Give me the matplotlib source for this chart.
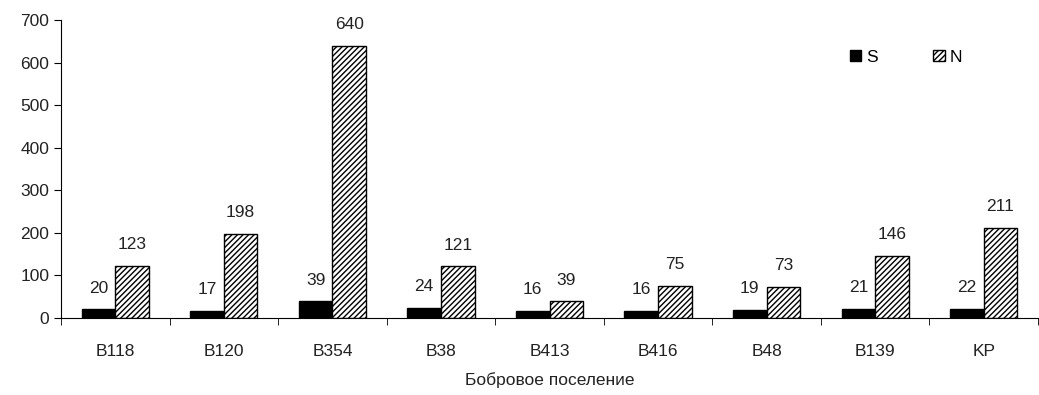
import matplotlib.pyplot as plt
import numpy as np

plt.rcParams['font.family'] = ['Liberation Sans', 'DejaVu Sans']
plt.rcParams['hatch.linewidth'] = 1.0

# data
categories = ['B118', 'B120', 'B354', 'B38', 'B413', 'B416', 'B48', 'B139', 'KP']
s_values = [20, 17, 39, 24, 16, 16, 19, 21, 22]
n_values = [123, 198, 640, 121, 39, 75, 73, 146, 211]
y_ticks = [0, 100, 200, 300, 400, 500, 600, 700]

txt = '#222222'
fs = 12.5
fig = plt.figure(figsize=(10.39, 3.95), dpi=100)
ax = fig.add_axes([61 / 1039, 77 / 395, 977 / 1039, 298 / 395])

x = np.arange(len(categories))
w = 0.31
bs = ax.bar(x - w / 2, s_values, w, color='black', edgecolor='black', linewidth=1.0, label='S')
bn = ax.bar(x + w / 2, n_values, w, color='white', edgecolor='black', linewidth=1.0,
            hatch='//////', label='N')

for bars, vals in ((bs, s_values), (bn, n_values)):
    for b, v in zip(bars, vals):
        ax.annotate(str(v), (b.get_x() + b.get_width() / 2, v), xytext=(0, 10),
                    textcoords='offset points', ha='center', va='bottom',
                    fontsize=fs, color=txt)

ax.set_xlim(-0.5, len(categories) - 0.5)
ax.set_ylim(0, 700)
ax.set_yticks(y_ticks)
ax.set_xticks(x)
ax.set_xticklabels(categories)
ax.set_xticks(np.arange(len(categories) + 1) - 0.5, minor=True)
ax.tick_params(axis='x', which='major', length=0, pad=19, labelsize=fs, labelcolor=txt)
ax.tick_params(axis='x', which='minor', length=5, direction='out')
ax.tick_params(axis='y', length=5, direction='out', labelsize=fs, labelcolor=txt)
for side in ('top', 'right'):
    ax.spines[side].set_visible(False)
ax.set_xlabel('Бобровое поселение', fontsize=fs, color=txt, labelpad=9)

ax.legend(loc='center', bbox_to_anchor=(906 / 1039, 1 - 57 / 395),
          bbox_transform=fig.transFigure, ncol=2, frameon=False, fontsize=fs,
          handlelength=0.65, handleheight=0.65, handletextpad=0.3, columnspacing=3.2)

fig.savefig('out.png', dpi=100)
